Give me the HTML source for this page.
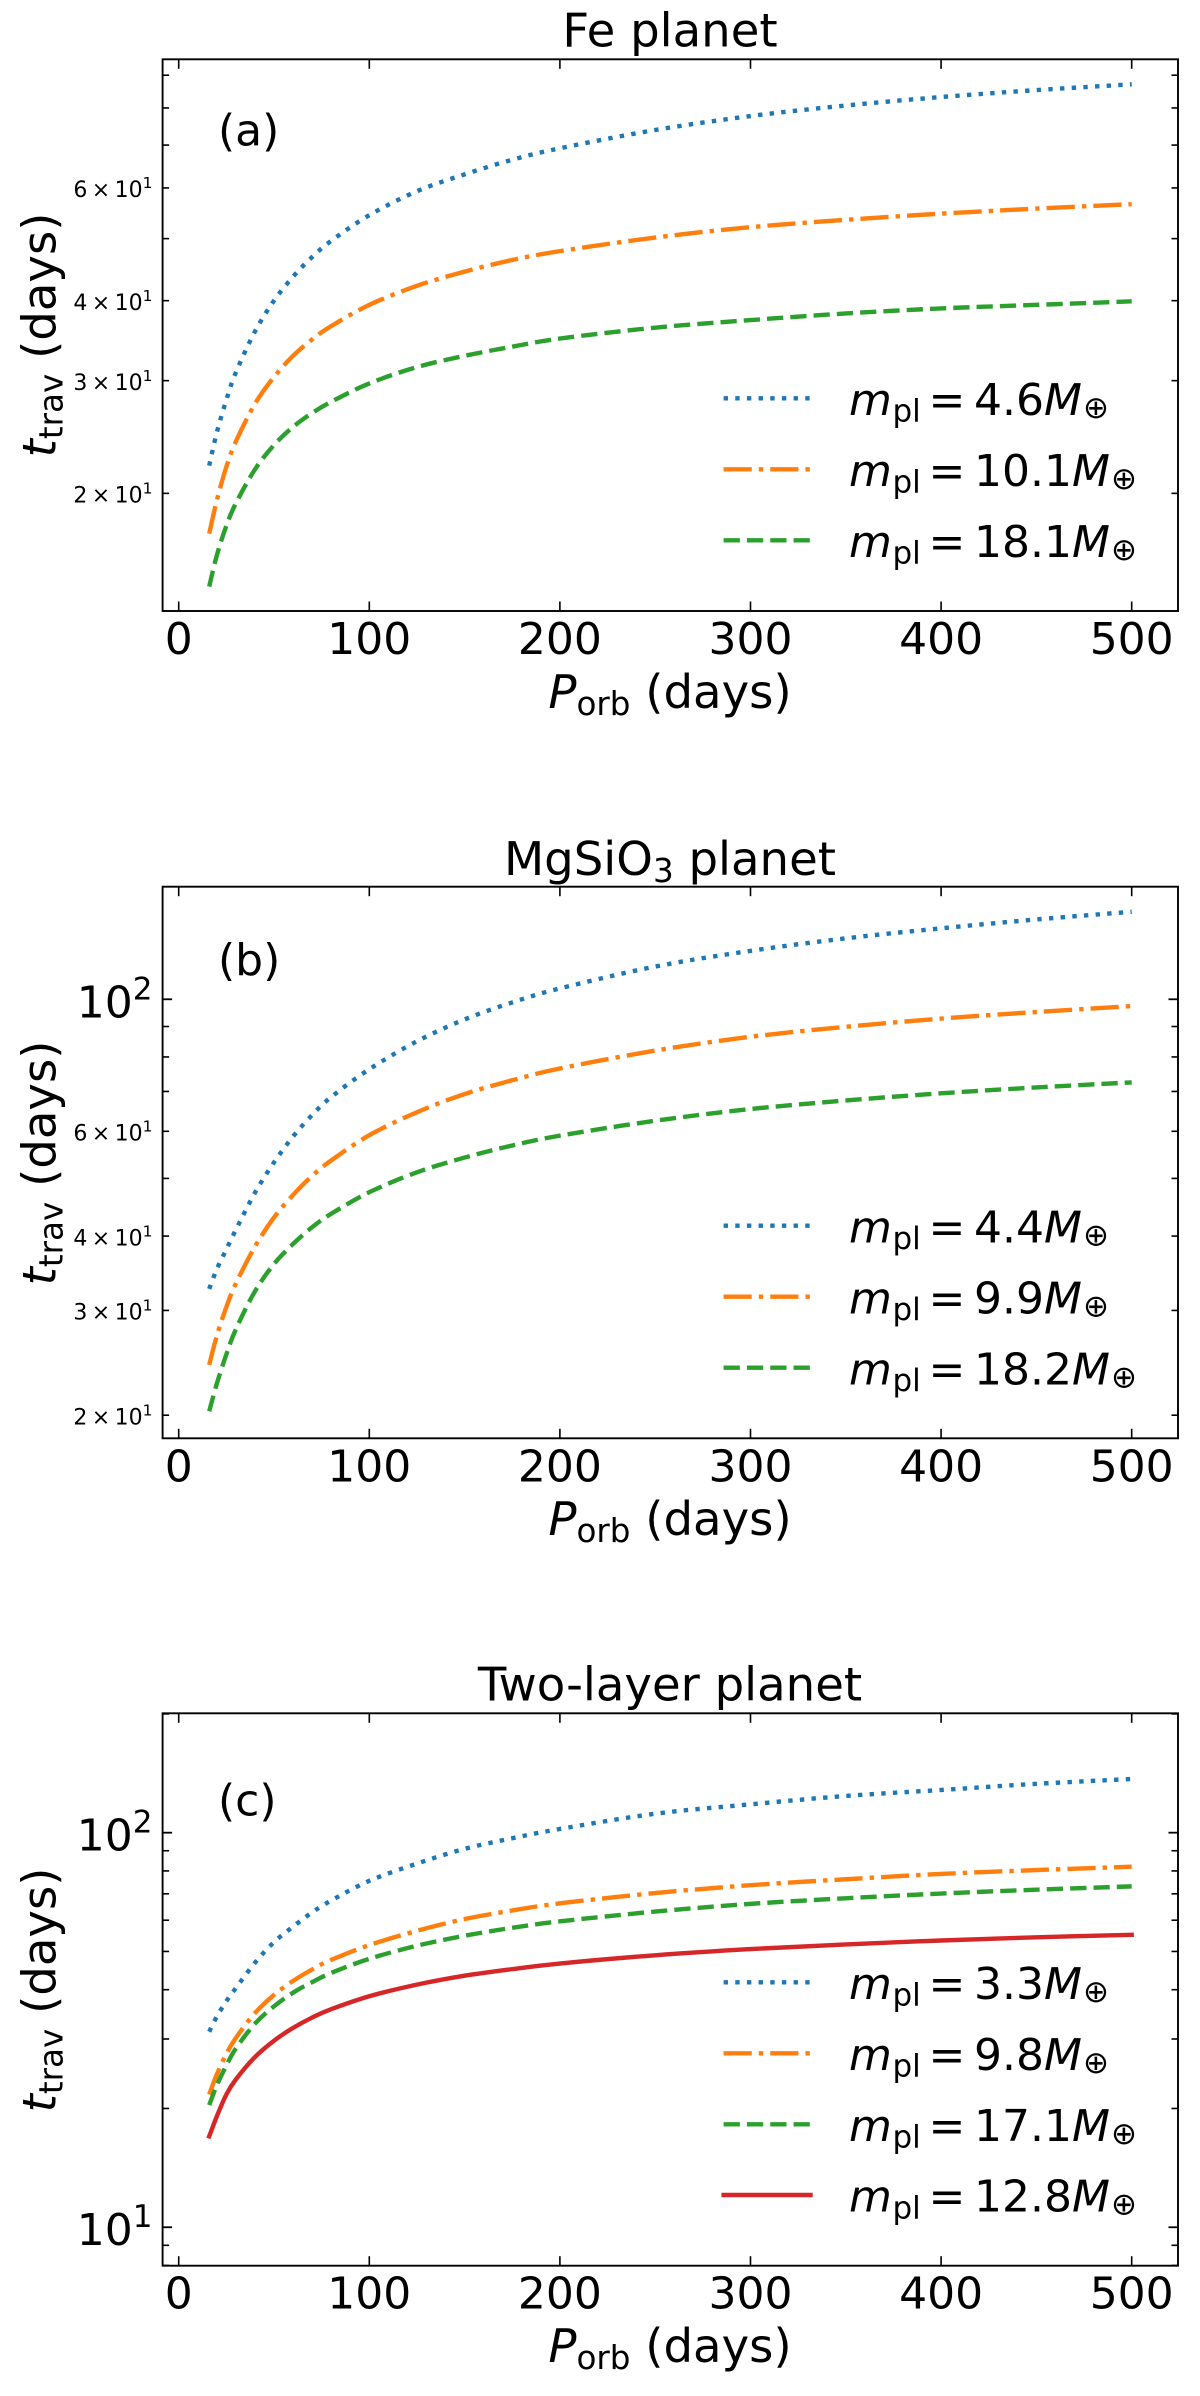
<!DOCTYPE html>
<html lang="en">
<head>
<meta charset="utf-8">
<title>Travel time vs orbital period</title>
<style>
html,body{margin:0;padding:0;background:#fff;}
svg{display:block;}
text{font-family:"DejaVu Sans","Liberation Sans",sans-serif;fill:#000;white-space:pre;}
</style>
</head>
<body>
<svg id="figure" xmlns="http://www.w3.org/2000/svg" width="1200" height="2396" viewBox="0 0 1200 2396">
  <rect x="0" y="0" width="1200" height="2396" fill="#fff"/>

  <text x="670" y="46.7" font-size="46.6" text-anchor="middle">Fe planet</text>
  <text x="218" y="145.5" font-size="44">(a)</text>
  <text transform="translate(55.5,335) rotate(-90)" font-size="46.6" text-anchor="middle"><tspan font-style="italic">t</tspan><tspan font-size="32.6" dy="7">trav</tspan><tspan dy="-7"> (days)</tspan></text>
  <text x="670" y="708" font-size="46.6" text-anchor="middle"><tspan font-style="italic">P</tspan><tspan font-size="32.6" dy="7">orb</tspan><tspan dy="-7"> (days)</tspan></text>

  <text x="670" y="875" font-size="46.6" text-anchor="middle">MgSiO<tspan font-size="32.6" dy="7">3</tspan><tspan dy="-7"> planet</tspan></text>
  <text x="218" y="975" font-size="44">(b)</text>
  <text transform="translate(55.5,1163) rotate(-90)" font-size="46.6" text-anchor="middle"><tspan font-style="italic">t</tspan><tspan font-size="32.6" dy="7">trav</tspan><tspan dy="-7"> (days)</tspan></text>
  <text x="670" y="1535" font-size="46.6" text-anchor="middle"><tspan font-style="italic">P</tspan><tspan font-size="32.6" dy="7">orb</tspan><tspan dy="-7"> (days)</tspan></text>

  <text x="670" y="1700.7" font-size="46.6" text-anchor="middle">Two-layer planet</text>
  <text x="218" y="1815.7" font-size="44">(c)</text>
  <text transform="translate(55.5,1990) rotate(-90)" font-size="46.6" text-anchor="middle"><tspan font-style="italic">t</tspan><tspan font-size="32.6" dy="7">trav</tspan><tspan dy="-7"> (days)</tspan></text>
  <text x="670" y="2362" font-size="46.6" text-anchor="middle"><tspan font-style="italic">P</tspan><tspan font-size="32.6" dy="7">orb</tspan><tspan dy="-7"> (days)</tspan></text>
</svg>
<script>
// ---- data ----
const periods = [16,20,25,30,40,50,60,70,80,100,125,150,175,200,250,300,350,400,450,500];

const feSmall  = [22.1,24.9,28.0,30.9,35.8,40.0,43.6,46.8,49.6,54.4,59.3,63.0,66.4,69.2,73.9,77.7,80.7,83.2,85.3,87.1];
const feMid    = [17.3,19.5,22.0,24.1,27.6,30.4,32.8,34.8,36.5,39.4,42.2,44.4,46.3,47.8,50.2,52.1,53.5,54.7,55.7,56.6];
const feLarge  = [14.3,16.0,17.8,19.3,21.8,23.8,25.4,26.7,27.8,29.7,31.5,32.8,33.9,34.9,36.3,37.3,38.2,38.9,39.4,39.9];

const mgSmall  = [32.6,35.2,38.0,41.0,47.3,53.2,58.8,63.9,68.5,76.3,85.0,92.5,98.8,104.3,113.5,120.6,126.6,131.6,136.2,140.3];
const mgMid    = [24.3,27.2,30.4,33.3,38.4,43.0,46.9,50.5,53.6,59.1,64.6,69.3,73.1,76.5,82.0,86.5,89.9,92.8,95.2,97.4];
const mgLarge  = [20.3,22.6,25.3,27.9,32.3,35.9,38.8,41.4,43.6,47.4,51.2,54.2,56.8,59.0,62.5,65.4,67.6,69.5,71.1,72.5];

const twoSmall = [31.3,34.2,37.4,40.4,46.8,52.8,57.8,62.8,67.3,75.5,83.5,91.0,96.8,102.2,111.7,118.0,123.9,128.3,133.0,136.8];
const twoMid   = [21.7,24.4,27.5,30.2,34.9,38.8,42.1,45.0,47.6,51.9,56.4,60.4,63.5,66.2,70.3,73.6,76.2,78.6,80.4,82.0];
const twoLarge = [20.4,22.9,25.7,28.4,32.8,36.3,39.3,41.8,44.1,47.9,51.7,54.8,57.4,59.6,63.1,66.0,68.2,70.1,71.7,73.1];
const twoAlt   = [17.0,19.1,21.7,23.7,27.0,29.7,32.0,34.0,35.7,38.5,41.2,43.4,45.1,46.6,48.9,50.7,52.1,53.3,54.3,55.1];

const feMasses  = ["4.6","10.1","18.1"];
const mgMasses  = ["4.4","9.9","18.2"];
const twoMasses = ["3.3","9.8","17.1","12.8"];

const xTicks = [0,100,200,300,400,500];
const feLabelled  = [20,30,40,60];
const feMinor     = [50,70,80,90];
const mgLabelled  = [20,30,40,60];
const mgMajor     = [100];
const mgMinor     = [50,70,80,90];
const twoMajor    = [10,100];
const twoMinor    = [8,9,20,30,40,50,60,70,80,90,200];

const xDomain = [-8.45, 524.3];
const feDomain = [13.10, 95.3];
const mgDomain = [18.29, 154.6];
const twoDomain = [7.99, 200.7];

// ---- styles ----
const BLUE = "#1f77b4", ORANGE = "#ff7f0e", GREEN = "#2ca02c", RED = "#d62728";
const LW = 4.4;
const DOTTED = "4.4 7.26", DASHDOT = "28.16 7.04 4.4 7.04", DASHED = "16.28 7.04";
const styleBlue = {color: BLUE, dash: DOTTED, cap: "butt", key: "dotted"};
const styleOrange = {color: ORANGE, dash: DASHDOT, cap: "butt", key: "dashdot"};
const styleGreen = {color: GREEN, dash: DASHED, cap: "butt", key: "dashed"};
const styleRed = {color: RED, dash: "none", cap: "square", key: "solid"};

const NS = "http://www.w3.org/2000/svg";
const svg = document.getElementById("figure");
const LEFT = 162.6, RIGHT = 1178;

function make(tag, attrs, parent) {
  const n = document.createElementNS(NS, tag);
  for (const k in attrs) n.setAttribute(k, attrs[k]);
  parent.appendChild(n);
  return n;
}
function xPos(p) {
  return LEFT + (p - xDomain[0]) / (xDomain[1] - xDomain[0]) * (RIGHT - LEFT);
}
function yScaleFor(domain, top, bottom) {
  const a = Math.log10(domain[0]), b = Math.log10(domain[1]);
  return function (v) { return bottom - (Math.log10(v) - a) / (b - a) * (bottom - top); };
}
function smoothPath(pts) {
  let d = "M" + pts[0][0].toFixed(2) + " " + pts[0][1].toFixed(2);
  for (let i = 0; i < pts.length - 1; i++) {
    const p0 = pts[Math.max(i - 1, 0)], p1 = pts[i], p2 = pts[i + 1], p3 = pts[Math.min(i + 2, pts.length - 1)];
    const c1x = p1[0] + (p2[0] - p0[0]) / 6, c1y = p1[1] + (p2[1] - p0[1]) / 6;
    const c2x = p2[0] - (p3[0] - p1[0]) / 6, c2y = p2[1] - (p3[1] - p1[1]) / 6;
    d += "C" + c1x.toFixed(2) + " " + c1y.toFixed(2) + " " + c2x.toFixed(2) + " " + c2y.toFixed(2) + " " + p2[0].toFixed(2) + " " + p2[1].toFixed(2);
  }
  return d;
}
function tickPair(g, x1, y1, x2, y2, x3, y3, x4, y4, w, name) {
  const a = make("line", {x1: x1, y1: y1, x2: x2, y2: y2, stroke: "#000", "stroke-width": w}, g);
  
  
  const b = make("line", {x1: x3, y1: y3, x2: x4, y2: y4, stroke: "#000", "stroke-width": w}, g);
  
  
}
function addSpan(t, str, attrs) {
  const s = make("tspan", attrs, t);
  s.textContent = str;
  return s;
}

function drawPanel(id, domain, top, bottom, series, styles, masses, legendY, majors, labelled, minors) {
  const g = make("g", {}, svg);
  
  
  const y = yScaleFor(domain, top, bottom);

  // curves
  series.forEach(function (vals, i) {
    const pts = periods.map(function (p, k) { return [xPos(p), y(vals[k])]; });
    const st = styles[i];
    const path = make("path", {d: smoothPath(pts), fill: "none", stroke: st.color, "stroke-width": LW,
      "stroke-dasharray": st.dash, "stroke-linecap": st.cap, "stroke-linejoin": "round"}, g);
    
    
  });

  // x ticks
  xTicks.forEach(function (v) {
    const x = xPos(v);
    tickPair(g, x, bottom, x, bottom - 9.5, x, top, x, top + 9.5, 1.6, 'x-tick-' + v);
    const t = make("text", {x: x, y: bottom + 43, "font-size": 44, "text-anchor": "middle"}, g);
    t.textContent = String(v);
    
    
  });

  // y major ticks with power-of-ten labels
  majors.forEach(function (v) {
    const py = y(v);
    tickPair(g, LEFT, py, LEFT + 9.5, py, RIGHT, py, RIGHT - 9.5, py, 1.8, 'y-major-tick-' + v);
    const t = make("text", {x: 152.5, y: py + 18, "font-size": 44, "text-anchor": "end"}, g);
    addSpan(t, "10", {});
    addSpan(t, String(Math.round(Math.log10(v))), {"font-size": 31, dy: -18});
    
    
  });

  // y minor ticks carrying small labels
  labelled.forEach(function (v) {
    const py = y(v);
    tickPair(g, LEFT, py, LEFT + 6.5, py, RIGHT, py, RIGHT - 6.5, py, 1.6, 'y-minor-tick-' + v);
    const t = make("text", {x: 152.5, y: py + 9.3, "font-size": 22, "text-anchor": "end"}, g);
    addSpan(t, (v / 10) + "\u2009\u00d7\u200910", {});
    addSpan(t, "1", {"font-size": 15.5, dy: -9});
    
    
  });

  // y minor ticks without labels
  minors.forEach(function (v) {
    const py = y(v);
    tickPair(g, LEFT, py, LEFT + 6.5, py, RIGHT, py, RIGHT - 6.5, py, 1.6, 'y-minor-tick-' + v);
  });

  // spines
  const frame = make("rect", {x: LEFT, y: top, width: RIGHT - LEFT, height: bottom - top, fill: "none", stroke: "#000", "stroke-width": 1.9}, g);
  
  

  // legend
  masses.forEach(function (m, i) {
    const ly = legendY[i], st = styles[i];
    const entry = make("g", {}, g);
    
    
    const line = make("line", {x1: 723.6, y1: ly, x2: 810.5, y2: ly, stroke: st.color, "stroke-width": LW,
      "stroke-dasharray": st.dash, "stroke-linecap": st.cap}, entry);
    
    
    const base = ly + 16.7;
    const t = make("text", {x: 849, y: base, "font-size": 44}, entry);
    addSpan(t, "m", {"font-style": "italic"});
    addSpan(t, "pl", {x: 892.5, "font-size": 31, y: base + 6.7});
    addSpan(t, "=", {x: 928.5, y: base});
    addSpan(t, m, {x: 974, y: base});
    addSpan(t, "M", {"font-style": "italic"});
    addSpan(t, "\u2295", {"font-size": 31, y: base + 3, dx: 1});
    
    
  });
}

drawPanel("a", feDomain, 59.3, 611, [feSmall, feMid, feLarge],
  [styleBlue, styleOrange, styleGreen], feMasses, [398.3, 469.3, 540.3], [], feLabelled, feMinor);
drawPanel("b", mgDomain, 886.7, 1438.3, [mgSmall, mgMid, mgLarge],
  [styleBlue, styleOrange, styleGreen], mgMasses, [1225.7, 1296.7, 1367.7], mgMajor, mgLabelled, mgMinor);
drawPanel("c", twoDomain, 1713.3, 2265.7, [twoSmall, twoMid, twoLarge, twoAlt],
  [styleBlue, styleOrange, styleGreen, styleRed], twoMasses, [1982.3, 2053.3, 2124.3, 2195], twoMajor, [], twoMinor);
</script>
</body>
</html>
